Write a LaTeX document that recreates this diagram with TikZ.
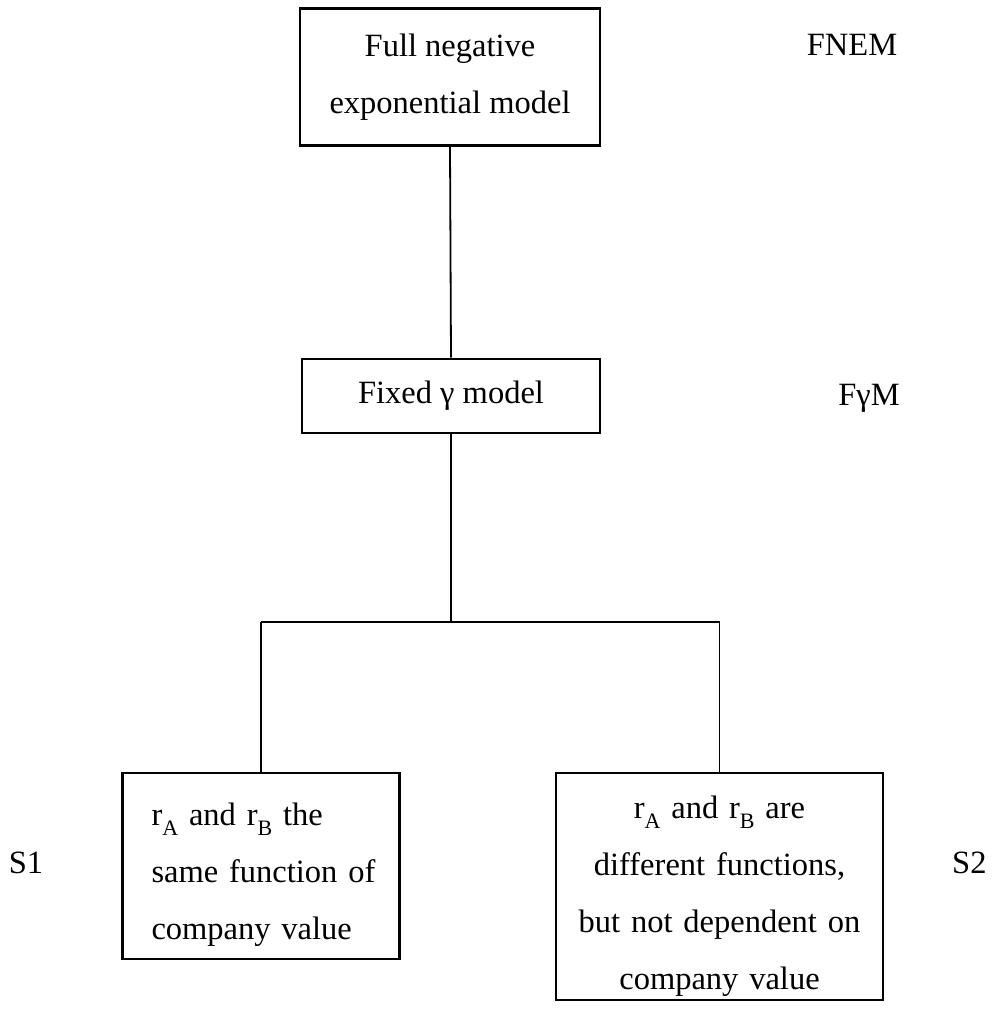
\documentclass[tikz,border=0pt]{standalone}
\usepackage{fontspec}
\setmainfont{Liberation Serif}
\newcommand{\subtxt}[1]{\raisebox{-0.32em}{\fontsize{22}{22}\selectfont #1}}
\begin{document}
\begin{tikzpicture}[x=1pt,y=1pt,
  txt/.style={font=\fontsize{32.5}{57}\selectfont},
  box/.style={txt, draw, line width=2.6pt, inner sep=0pt},
  link/.style={line width=1.8pt},
  lbl/.style={txt, inner sep=0pt, anchor=base}]
\useasboundingbox (0,0) rectangle (992,-1010);
\node[box, minimum width=300, minimum height=137, align=center] (fnem) at (450,-77) {Full negative\\exponential model};
\node[box, minimum width=298, minimum height=74] (fixed) at (451,-396) {Fixed γ model};
\node[box, minimum width=277, minimum height=186, text width=245, align=left] (s1box) at (261,-866)
  {\rule{0pt}{40pt}\hspace*{13pt}r\subtxt{A} and r\subtxt{B} the\\\hspace*{13pt}same function of\\\hspace*{13pt}company value};
\node[box, minimum width=327, minimum height=227, text width=310, align=center] (s2box) at (719.5,-886.5)
  {\rule{0pt}{42pt}r\subtxt{A} and r\subtxt{B} are\\different functions,\\but not dependent on\\company value};
\node[lbl] (lfnem) at (852,-55) {FNEM};
\node[lbl] (lfgm) at (869,-405) {FγM};
\node[lbl] (ls1) at (26,-873) {S1};
\node[lbl, anchor=base west] (ls2) at (952,-873) {S2};
\coordinate (j) at (fixed.south |- 0,-622);
\coordinate (jl) at (s1box.north |- 0,-622);
\coordinate (jr) at (s2box.north |- 0,-622);
\draw[link] (fnem.south) -- (fixed.north);
\draw[link] (fixed.south) -- (j);
\draw[link] (jl) -- (jr);
\draw[link] (jl) -- (s1box.north);
\draw[link] (jr) -- (s2box.north);
\end{tikzpicture}
\end{document}
